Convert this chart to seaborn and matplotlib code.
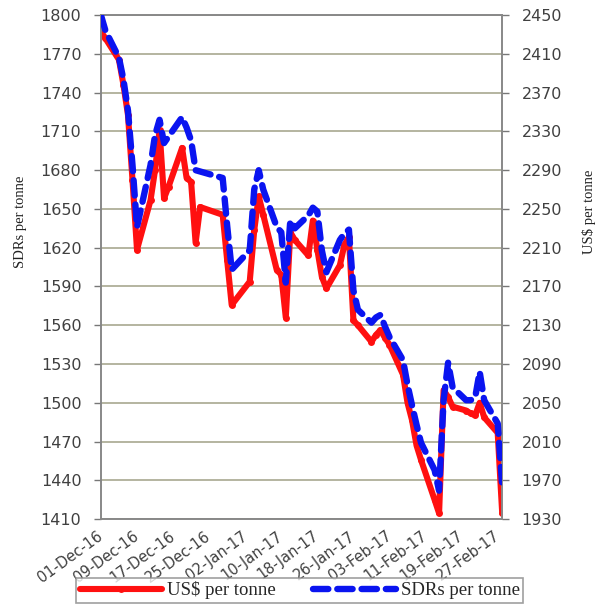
import seaborn as sns
import pandas as pd
import matplotlib.pyplot as plt

# trading days shown on the chart
dates = ['2016-12-01', '2016-12-02', '2016-12-05', '2016-12-06', '2016-12-07', '2016-12-08', '2016-12-09',
         '2016-12-12', '2016-12-13', '2016-12-14', '2016-12-15', '2016-12-16', '2016-12-19', '2016-12-20',
         '2016-12-21', '2016-12-22', '2016-12-23', '2016-12-28', '2016-12-29', '2016-12-30',
         '2017-01-03', '2017-01-04', '2017-01-05', '2017-01-06', '2017-01-09', '2017-01-10', '2017-01-11',
         '2017-01-12', '2017-01-13', '2017-01-16', '2017-01-17', '2017-01-18', '2017-01-19', '2017-01-20',
         '2017-01-23', '2017-01-24', '2017-01-25', '2017-01-26', '2017-01-27', '2017-01-30', '2017-01-31',
         '2017-02-01', '2017-02-02', '2017-02-03', '2017-02-06', '2017-02-07', '2017-02-08', '2017-02-09',
         '2017-02-10', '2017-02-13', '2017-02-14', '2017-02-15', '2017-02-16', '2017-02-17', '2017-02-20',
         '2017-02-21', '2017-02-22', '2017-02-23', '2017-02-24', '2017-02-27', '2017-02-28']

usd = [2433, 2426, 2404, 2378, 2347, 2280, 2208, 2259, 2290, 2331, 2261, 2273, 2313, 2282, 2278, 2215,
       2252, 2244, 2197, 2151,
       2175, 2228, 2263, 2244, 2187, 2182, 2138, 2226, 2218, 2202, 2238, 2208, 2180, 2168, 2192, 2213,
       2221, 2135, 2130, 2113, 2120,
       2125, 2117, 2110, 2079, 2050, 2032, 2006, 1991, 1950, 1936, 2063, 2056, 2046, 2042, 2039, 2037,
       2050, 2035, 2019, 1936]

sdr = [1800, 1788, 1767, 1750, 1726, 1684, 1636, 1684, 1707, 1719, 1701, 1706, 1721, 1713, 1703, 1680,
       1679, 1674, 1637, 1603,
       1618, 1665, 1680, 1665, 1636, 1632, 1593, 1641, 1635, 1645, 1651, 1648, 1618, 1601, 1626, 1631,
       1634, 1587, 1572, 1562, 1566,
       1568, 1559, 1551, 1533, 1514, 1498, 1483, 1469, 1448, 1432, 1502, 1531, 1512, 1502, 1502, 1504,
       1524, 1502, 1484, 1436]

sdr_ticks = list(range(1410, 1801, 30))
usd_ticks = list(range(1930, 2451, 40))
date_ticks = ['01-Dec-16', '09-Dec-16', '17-Dec-16', '25-Dec-16', '02-Jan-17', '10-Jan-17',
              '18-Jan-17', '26-Jan-17', '03-Feb-17', '11-Feb-17', '19-Feb-17', '27-Feb-17']

df = pd.DataFrame({'date': pd.to_datetime(dates), 'usd': usd, 'sdr': sdr})

sns.set_style("white")
plt.rcParams['font.family'] = ['DejaVu Sans']

fig = plt.figure(figsize=(6.08, 6.05), dpi=100)
ax = fig.add_axes([0.166, 0.142, 0.66, 0.833])
ax2 = ax.twinx()

sns.lineplot(data=df, x='date', y='sdr', ax=ax, color='#0A14F0', linewidth=4.6,
             zorder=3, label='SDRs per tonne', legend=False)
blue = ax.lines[-1]
blue.set_dashes((2.4, 1.4))
blue.set_dash_capstyle('round')
sns.lineplot(data=df, x='date', y='usd', ax=ax2, color='#FF1010', linewidth=4.4,
             marker='o', markersize=5, markeredgewidth=0, label='US$ per tonne', legend=False)
ax.set_zorder(ax2.get_zorder() + 1)
ax.patch.set_visible(False)
ax2.set_facecolor('#FFFFCC')

ax.set_ylim(1410, 1800)
ax2.set_ylim(1930, 2450)
ax.set_yticks(sdr_ticks)
ax2.set_yticks(usd_ticks)
ax.set_xlim(pd.Timestamp('2016-12-01'), pd.Timestamp('2017-02-28'))
xt = pd.to_datetime(date_ticks, format='%d-%b-%y')
ax.set_xticks(xt)
ax.set_xticklabels(date_ticks, rotation=36, ha='right', va='center',
                   rotation_mode='anchor', color='#404040')

ax2.yaxis.grid(True, color='#A8A890', linewidth=1.2)
ax.grid(False)

for a in (ax, ax2):
    for s in a.spines.values():
        s.set_color('#888888')
        s.set_linewidth(1.2)
    a.tick_params(axis='both', direction='out', length=5, width=1, color='#777777',
                  labelsize=11.5, labelcolor='#404040', pad=9)
ax.tick_params(axis='x', pad=6, labelsize=10.5)

ax.set_xlabel('')
ax.set_ylabel('SDRs per tonne', family='Liberation Serif', fontsize=10.5, color='#222222')
ax.yaxis.set_label_coords(-0.185, 0.59)
ax2.set_ylabel('US$ per tonne', family='Liberation Serif', fontsize=10.5, color='#222222',
               rotation=90)
ax2.yaxis.set_label_coords(1.2, 0.61)

h1, l1 = ax2.get_legend_handles_labels()
h2, l2 = ax.get_legend_handles_labels()
leg = fig.legend(h1 + h2, l1 + l2, loc='lower center', bbox_to_anchor=(0.493, 0.003), ncol=2,
                 frameon=True, fancybox=False, edgecolor='#888888', handlelength=4.4,
                 columnspacing=2.0, borderpad=0.2, handletextpad=0.25, borderaxespad=0.0,
                 prop={'family': 'Liberation Serif', 'size': 13.5})
leg.get_frame().set_linewidth(1.2)

plt.savefig('out.png', dpi=100)
